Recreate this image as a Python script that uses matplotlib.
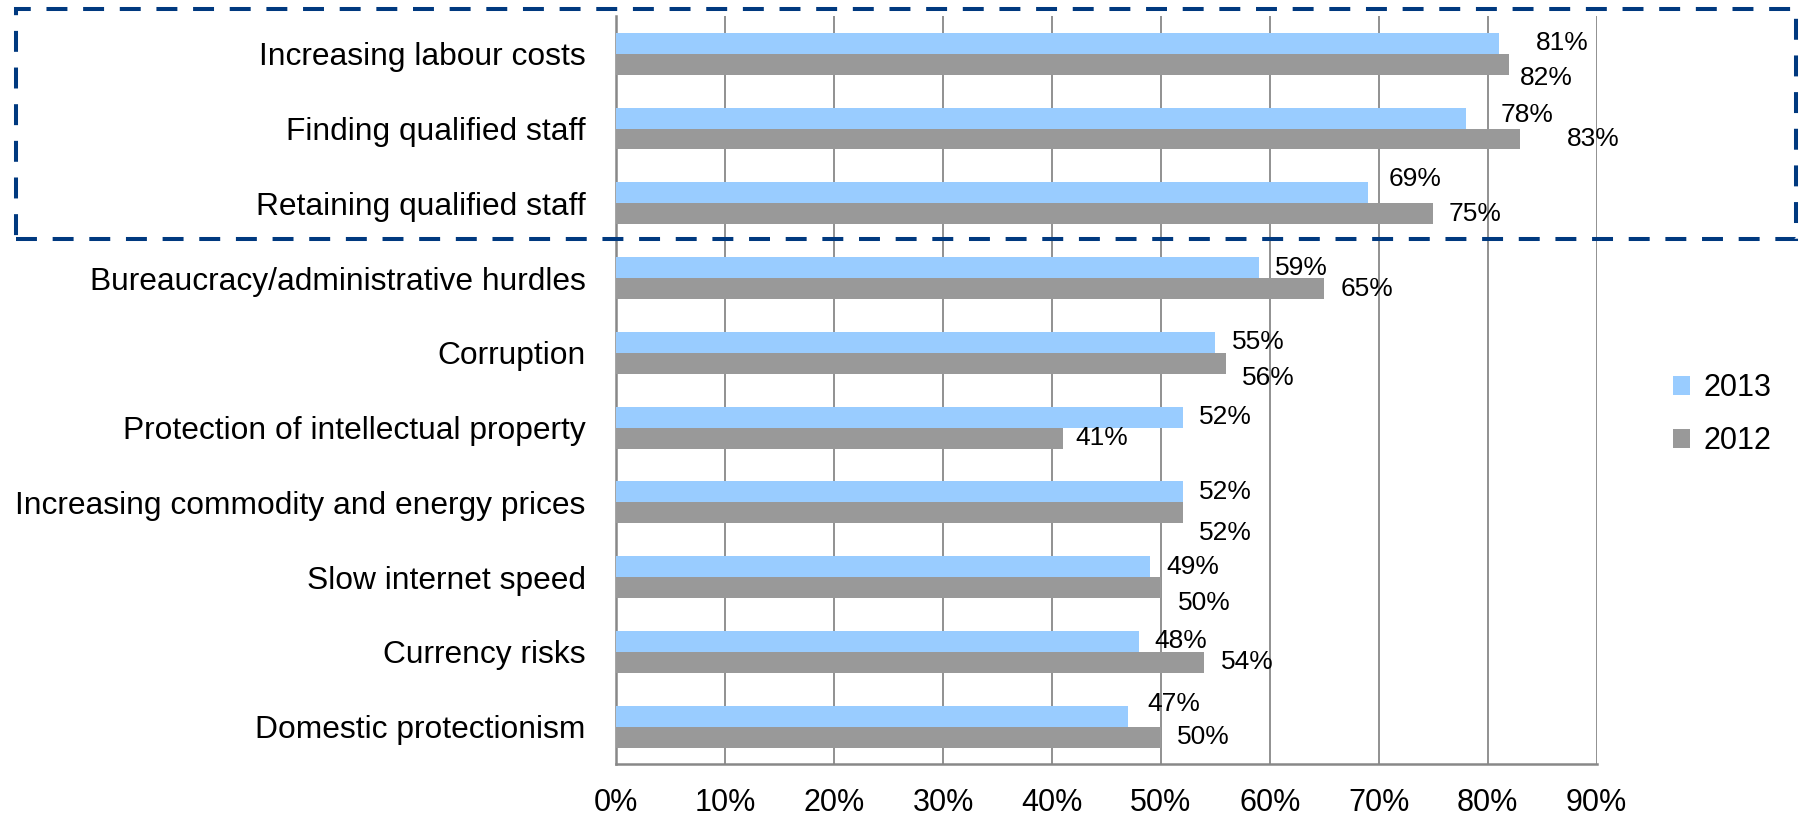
import numpy as np
import matplotlib
matplotlib.use('Agg')
import matplotlib.pyplot as plt
from matplotlib.patches import Rectangle

plt.rcParams['font.family'] = ['Liberation Sans', 'DejaVu Sans']

categories = [
    'Increasing labour costs',
    'Finding qualified staff',
    'Retaining qualified staff',
    'Bureaucracy/administrative hurdles',
    'Corruption',
    'Protection of intellectual property',
    'Increasing commodity and energy prices',
    'Slow internet speed',
    'Currency risks',
    'Domestic protectionism',
]
vals_2013 = [81, 78, 69, 59, 55, 52, 52, 49, 48, 47]
vals_2012 = [82, 83, 75, 65, 56, 41, 52, 50, 54, 50]
x_ticks = [0, 10, 20, 30, 40, 50, 60, 70, 80, 90]

# label nudges in pixels (x right, y down), as the labels sit in the original
dx_2013 = [37, 35, 21, 16, 17, 16, 16, 16, 15, 19]
dy_2013 = [0, -3, -14, 0, 0, 0, 0, 0, 0, -12]
dx_2012 = [10, 47, 15, 16, 16, 13, 16, 17, 16, 16]
dy_2012 = [14, 0, 0, 0, 15, 0, 20, 15, 0, 0]

c2013 = '#99CCFF'
c2012 = '#999999'

fig = plt.figure(figsize=(18.02, 8.19), dpi=100)
ax = fig.add_axes([0.342, 0.067, 0.544, 0.913])

y = np.arange(len(categories))
h = 0.28
ax.barh(y - h / 2, vals_2013, h, color=c2013, label='2013', zorder=3)
ax.barh(y + h / 2, vals_2012, h, color=c2012, label='2012', zorder=3)

for i in range(len(categories)):
    ax.annotate(f'{vals_2013[i]}%', (vals_2013[i], y[i] - h / 2),
                xytext=(dx_2013[i], -dy_2013[i]), textcoords='offset pixels',
                va='center', ha='left', fontsize=19)
    ax.annotate(f'{vals_2012[i]}%', (vals_2012[i], y[i] + h / 2),
                xytext=(dx_2012[i], -dy_2012[i]), textcoords='offset pixels',
                va='center', ha='left', fontsize=19)

ax.set_xlim(0, 90)
ax.set_ylim(len(categories) - 0.5, -0.5)
ax.set_xticks(x_ticks)
ax.set_xticklabels([f'{t}%' for t in x_ticks], fontsize=22)
ax.set_yticks(y)
ax.set_yticklabels(categories, fontsize=22.9)
ax.tick_params(axis='x', length=0, pad=17)
ax.tick_params(axis='y', length=0, pad=22)
ax.grid(axis='x', color='#888888', linewidth=1.3, zorder=0)
for s in ['top', 'right']:
    ax.spines[s].set_visible(False)
for s in ['left', 'bottom']:
    ax.spines[s].set_color('#888888')
    ax.spines[s].set_linewidth(1.8)

ax.legend(loc='center left', bbox_to_anchor=(1.05, 0.467), frameon=False,
          fontsize=22, handlelength=0.55, handleheight=0.55, handletextpad=0.45,
          labelspacing=0.75)

# dashed box around the top three categories
box = Rectangle((0.0087, 0.708), 0.988, 0.2806, transform=fig.transFigure,
                fill=False, edgecolor='#00397F', linewidth=2.9,
                linestyle=(0, (5.2, 3.9)), zorder=10, clip_on=False)
fig.patches.append(box)

fig.savefig('out.png', dpi=100)
